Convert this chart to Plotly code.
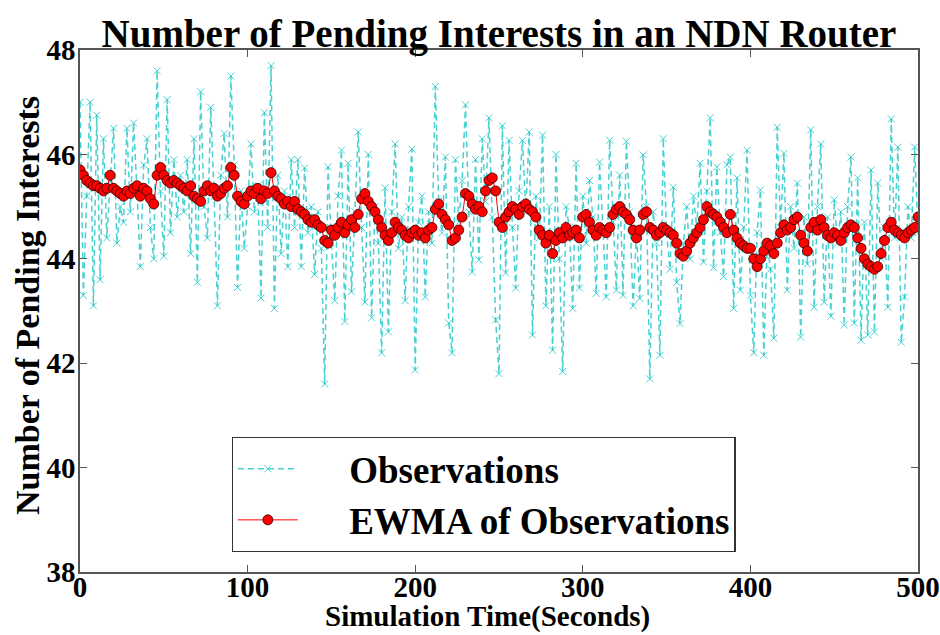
import plotly.graph_objects as go

time_s = list(range(0, 501, 2))

observations = [
    47.0, 43.3, 45.2, 47.0, 43.1, 46.75, 43.6, 46.3, 44.4, 45.5,
    46.5, 44.3, 45.0, 44.7, 46.5, 44.9, 46.6, 45.3, 43.85, 45.8,
    46.3, 44.6, 44.0, 47.6, 45.3, 44.05, 47.05, 44.5, 45.9, 44.8,
    45.6, 44.9, 45.9, 44.1, 46.3, 43.55, 47.2, 45.0, 44.4, 46.9,
    45.2, 43.1, 45.6, 46.4, 44.8, 47.5, 45.8, 43.45, 45.3, 44.2,
    45.0, 46.2, 44.9, 45.4, 43.25, 46.8, 44.6, 47.7, 43.05, 45.6,
    44.1, 45.3, 43.85, 45.9, 44.6, 45.9, 43.85, 45.74, 44.5, 45.0,
    43.7, 44.9, 44.2, 41.6, 45.76, 44.3, 43.2, 45.2, 46.08, 42.8,
    45.83, 43.37, 44.9, 46.43, 44.6, 43.17, 46.0, 42.87, 45.0, 44.3,
    42.2, 45.36, 42.6, 44.9, 46.2, 44.2, 44.8, 43.2, 45.0, 46.1,
    41.87, 44.7, 45.2, 43.27, 44.9, 44.3, 47.3, 45.1, 44.5, 45.95,
    42.77, 42.2, 45.9, 44.7, 45.5, 46.95, 44.9, 43.75, 45.9, 43.98,
    46.3, 45.1, 46.7, 44.8, 42.83, 41.8, 46.55, 43.73, 46.27, 44.6,
    43.44, 45.3, 46.27, 44.9, 46.43, 42.54, 45.2, 44.4, 46.37, 43.1,
    45.0, 42.25, 46.0, 44.0, 41.84, 45.0, 44.6, 43.05, 45.83, 43.44,
    45.2, 44.3, 45.5, 44.8, 43.34, 45.85, 44.5, 43.27, 46.27, 44.7,
    43.4, 45.6, 43.3, 46.25, 44.9, 43.1, 44.5, 43.24, 45.99, 45.0,
    41.7, 44.9, 44.3, 42.15, 46.3, 44.5, 43.8, 45.37, 43.55, 42.76,
    44.3, 45.0, 44.0, 45.2, 44.6, 45.83, 43.94, 45.3, 46.7, 43.83,
    45.76, 44.5, 43.66, 45.8, 45.95, 43.05, 45.55, 43.4, 44.6, 46.08,
    43.3, 42.2, 44.5, 45.32, 42.15, 44.3, 43.8, 42.48, 46.52, 44.6,
    46.02, 43.4, 45.0, 44.2, 45.45, 42.5, 44.8, 43.9, 46.47, 43.07,
    45.0, 46.2, 43.17, 44.8, 42.9, 45.13, 44.3, 44.9, 42.73, 45.0,
    45.95, 42.77, 45.55, 42.44, 44.7, 42.54, 45.7, 42.6, 45.45, 44.0,
    44.6, 43.07, 46.68, 44.4, 46.14, 42.4, 43.27, 45.0, 44.4, 46.14,
    44.5,
]

ewma = [
    45.7, 45.6, 45.5, 45.45, 45.4, 45.4, 45.35, 45.3, 45.35, 45.6,
    45.35, 45.3, 45.25, 45.2, 45.3, 45.25, 45.35, 45.4, 45.2, 45.35,
    45.3, 45.15, 45.05, 45.6, 45.75, 45.6, 45.5, 45.45, 45.5, 45.45,
    45.4, 45.35, 45.3, 45.4, 45.2, 45.15, 45.1, 45.3, 45.4, 45.3,
    45.35, 45.2, 45.25, 45.35, 45.4, 45.75, 45.6, 45.2, 45.1, 45.05,
    45.2, 45.3, 45.25, 45.35, 45.15, 45.3, 45.25, 45.65, 45.3, 45.2,
    45.15, 45.05, 45.1, 45.0, 45.1, 44.95, 44.9, 44.85, 44.75, 44.7,
    44.75, 44.65, 44.6, 44.35, 44.3, 44.55, 44.45, 44.6, 44.7, 44.5,
    44.65, 44.75, 44.6, 44.85, 45.15, 45.25, 45.1, 45.0, 44.9, 44.75,
    44.6, 44.45, 44.35, 44.5, 44.7, 44.6, 44.55, 44.45, 44.4, 44.5,
    44.55, 44.45, 44.5, 44.4, 44.55, 44.6, 44.95, 45.05, 44.85, 44.75,
    44.65, 44.35, 44.4, 44.55, 44.8, 45.25, 45.2, 45.05, 44.95, 45.0,
    44.9, 45.3, 45.5, 45.55, 45.3, 44.7, 44.6, 44.8, 44.9, 45.0,
    44.95, 44.85, 45.0, 45.05, 44.95, 44.9, 44.8, 44.55, 44.45, 44.3,
    44.45, 44.1, 44.35, 44.5, 44.4, 44.6, 44.45, 44.5, 44.55, 44.4,
    44.8, 44.85, 44.7, 44.55, 44.45, 44.6, 44.55, 44.5, 44.6, 44.85,
    44.95, 45.0, 44.9, 44.85, 44.75, 44.55, 44.4, 44.55, 44.85, 44.9,
    44.6, 44.55, 44.45, 44.5, 44.6, 44.55, 44.5, 44.45, 44.3, 44.1,
    44.05, 44.15, 44.3, 44.4, 44.5, 44.6, 44.75, 45.0, 44.9, 44.85,
    44.8, 44.7, 44.6, 44.5, 44.85, 44.55, 44.4, 44.3, 44.25, 44.2,
    44.2, 44.0, 43.85, 44.0, 44.15, 44.3, 44.25, 44.1, 44.3, 44.5,
    44.65, 44.55, 44.6, 44.75, 44.8, 44.45, 44.3, 44.15, 44.6, 44.7,
    44.55, 44.75, 44.6, 44.45, 44.4, 44.5, 44.45, 44.35, 44.5, 44.6,
    44.65, 44.6, 44.4, 44.2, 44.0, 43.9, 43.85, 43.8, 43.85, 44.1,
    44.35, 44.6, 44.7, 44.55, 44.5, 44.45, 44.4, 44.5, 44.55, 44.6,
    44.8,
]

x_ticks = [0, 100, 200, 300, 400, 500]
y_ticks = [38, 40, 42, 44, 46, 48]

SERIF = "Liberation Serif"
CYAN = "rgba(0,191,191,0.72)"
PAD = "\u00a0" * 5

fig = go.Figure()
fig.add_trace(go.Scatter(
    x=time_s, y=observations, mode="lines+markers",
    name=PAD + "<b>Observations</b>",
    line=dict(color=CYAN, width=1.5, dash="6px,4px"),
    marker=dict(symbol="x-thin", size=7, color=CYAN,
                line=dict(width=1, color=CYAN)),
))
fig.add_trace(go.Scatter(
    x=time_s, y=ewma, mode="lines+markers",
    name=PAD + "<b>EWMA of Observations</b>",
    line=dict(color="#ff0000", width=1),
    marker=dict(symbol="circle", size=10, color="#ff0000",
                line=dict(width=0.8, color="#330000")),
))

axis_common = dict(
    showgrid=False, zeroline=False, showline=True, mirror="ticks",
    linecolor="#555555", linewidth=1.5, ticks="inside", ticklen=7,
    tickcolor="#555555", automargin=False,
    tickfont=dict(family=SERIF, size=29, color="black", weight="bold"),
)

fig.update_layout(
    width=940, height=635,
    margin=dict(l=80, r=22, t=50, b=63),
    paper_bgcolor="white", plot_bgcolor="white",
    title=dict(text="<b>Number of Pending Interests in an NDN Router</b>",
               font=dict(family=SERIF, size=39, color="black"),
               x=(80 + 918) / 2 / 940, xanchor="center",
               y=1 - 33 / 635, yanchor="middle"),
    xaxis=dict(range=[0, 500], tickvals=x_ticks, ticklabelstandoff=-12, **axis_common),
    yaxis=dict(range=[38, 48], tickvals=y_ticks, ticklabelstandoff=-3, **axis_common),
    legend=dict(x=0.181, y=0.2586, xanchor="left", yanchor="top",
                bgcolor="white", bordercolor="#333333", borderwidth=1.2,
                font=dict(family=SERIF, size=37, color="black"),
                itemwidth=60),
    showlegend=True,
    annotations=[
        dict(text="<b>Simulation Time(Seconds)</b>", xref="paper", yref="paper",
             x=(487 - 80) / 838, y=-(616 - 572) / 522, xanchor="center", yanchor="middle",
             showarrow=False, font=dict(family=SERIF, size=29, color="black")),
        dict(text="<b>Number of Pending Interests</b>", xref="paper", yref="paper",
             x=(27 - 80) / 838, y=(572 - 306) / 522, xanchor="center", yanchor="middle",
             textangle=-90, showarrow=False, font=dict(family=SERIF, size=34, color="black")),
    ],
)

fig.write_html("out.html", config={"displayModeBar": False},
               post_script="document.body.style.margin='0';")
